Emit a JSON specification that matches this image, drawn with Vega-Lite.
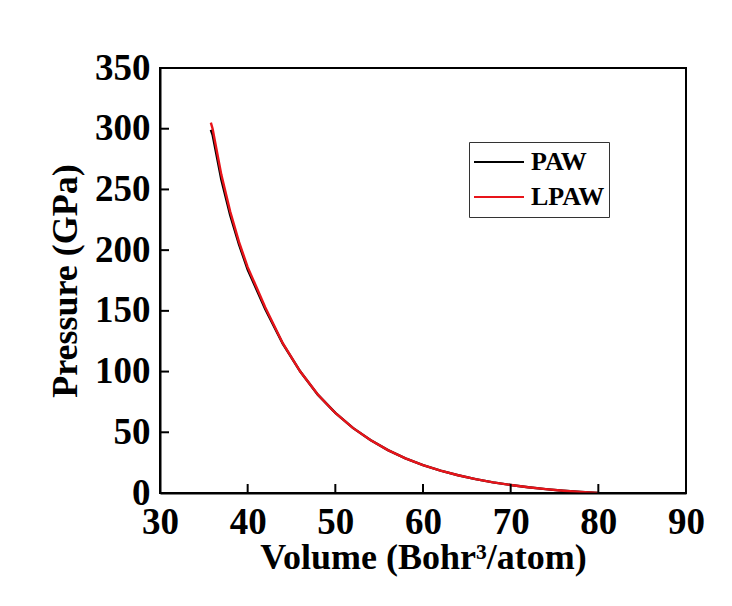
{
  "$schema": "https://vega.github.io/schema/vega-lite/v6.json",
  "width": 526,
  "height": 425,
  "autosize": "none",
  "padding": {"left": 160, "top": 68, "right": 46, "bottom": 113},
  "background": "#ffffff",
  "config": {
    "view": {"stroke": "#000000", "strokeWidth": 2},
    "font": "Liberation Serif"
  },
  "layer": [
    {
      "data": {
        "values": [
          {"v": 35.8, "p": 299, "s": "PAW"},
          {"v": 36, "p": 295, "s": "PAW"},
          {"v": 37, "p": 258, "s": "PAW"},
          {"v": 38, "p": 229, "s": "PAW"},
          {"v": 39, "p": 205, "s": "PAW"},
          {"v": 40, "p": 184, "s": "PAW"},
          {"v": 42, "p": 151.5, "s": "PAW"},
          {"v": 44, "p": 123, "s": "PAW"},
          {"v": 46, "p": 100, "s": "PAW"},
          {"v": 48, "p": 81, "s": "PAW"},
          {"v": 50, "p": 66, "s": "PAW"},
          {"v": 52, "p": 53.6, "s": "PAW"},
          {"v": 54, "p": 43.6, "s": "PAW"},
          {"v": 56, "p": 35.3, "s": "PAW"},
          {"v": 58, "p": 28.6, "s": "PAW"},
          {"v": 60, "p": 23.0, "s": "PAW"},
          {"v": 62, "p": 18.4, "s": "PAW"},
          {"v": 64, "p": 14.6, "s": "PAW"},
          {"v": 66, "p": 11.4, "s": "PAW"},
          {"v": 68, "p": 8.8, "s": "PAW"},
          {"v": 70, "p": 6.6, "s": "PAW"},
          {"v": 72, "p": 4.7, "s": "PAW"},
          {"v": 74, "p": 3.2, "s": "PAW"},
          {"v": 76, "p": 1.9, "s": "PAW"},
          {"v": 78, "p": 0.9, "s": "PAW"},
          {"v": 80, "p": 0, "s": "PAW"},
          {"v": 35.8, "p": 305, "s": "LPAW"},
          {"v": 36, "p": 300, "s": "LPAW"},
          {"v": 37, "p": 262, "s": "LPAW"},
          {"v": 38, "p": 232, "s": "LPAW"},
          {"v": 39, "p": 207, "s": "LPAW"},
          {"v": 40, "p": 186, "s": "LPAW"},
          {"v": 42, "p": 153, "s": "LPAW"},
          {"v": 44, "p": 123.4, "s": "LPAW"},
          {"v": 46, "p": 100, "s": "LPAW"},
          {"v": 48, "p": 81.1, "s": "LPAW"},
          {"v": 50, "p": 65.9, "s": "LPAW"},
          {"v": 52, "p": 53.6, "s": "LPAW"},
          {"v": 54, "p": 43.6, "s": "LPAW"},
          {"v": 56, "p": 35.3, "s": "LPAW"},
          {"v": 58, "p": 28.6, "s": "LPAW"},
          {"v": 60, "p": 23.0, "s": "LPAW"},
          {"v": 62, "p": 18.4, "s": "LPAW"},
          {"v": 64, "p": 14.6, "s": "LPAW"},
          {"v": 66, "p": 11.4, "s": "LPAW"},
          {"v": 68, "p": 8.8, "s": "LPAW"},
          {"v": 70, "p": 6.6, "s": "LPAW"},
          {"v": 72, "p": 4.7, "s": "LPAW"},
          {"v": 74, "p": 3.2, "s": "LPAW"},
          {"v": 76, "p": 1.9, "s": "LPAW"},
          {"v": 78, "p": 0.9, "s": "LPAW"},
          {"v": 80, "p": 0, "s": "LPAW"}
        ]
      },
      "mark": {"type": "line", "strokeWidth": 2.4, "clip": true},
      "encoding": {
        "x": {
          "field": "v", "type": "quantitative",
          "title": "Volume (Bohr³/atom)",
          "scale": {"domain": [30, 90], "nice": false, "zero": false},
          "axis": {
            "orient": "bottom",
            "title": "Volume (Bohr³/atom)",
            "values": [30, 40, 50, 60, 70, 80, 90],
            "grid": false,
            "ticks": false,
            "zindex": 1,
            "domainColor": "#000000", "domainWidth": 2,
            "labelFont": "Liberation Serif", "labelFontWeight": "bold", "labelFontSize": 37, "labelColor": "#000000",
            "labelPadding": 11, "labelFlush": false,
            "titleFont": "Liberation Serif", "titleFontWeight": "bold", "titleFontSize": 36, "titleColor": "#000000",
            "titlePadding": 0
          }
        },
        "y": {
          "field": "p", "type": "quantitative",
          "title": "Pressure (GPa)",
          "scale": {"domain": [0, 350], "nice": false},
          "axis": {
            "orient": "left",
            "title": "Pressure (GPa)",
            "values": [0, 50, 100, 150, 200, 250, 300, 350],
            "grid": false,
            "ticks": false,
            "zindex": 1,
            "domainColor": "#000000", "domainWidth": 2,
            "labelFont": "Liberation Serif", "labelFontWeight": "bold", "labelFontSize": 37, "labelColor": "#000000",
            "labelPadding": 10, "labelFlush": false,
            "titleFont": "Liberation Serif", "titleFontWeight": "bold", "titleFontSize": 36, "titleColor": "#000000",
            "titlePadding": 10
          }
        },
        "color": {
          "field": "s", "type": "nominal",
          "scale": {"domain": ["PAW", "LPAW"], "range": ["#000000", "#e8141a"]},
          "legend": {
            "title": null,
            "orient": "none",
            "legendX": 309,
            "legendY": 74,
            "strokeColor": "#333333",
            "padding": 4,
            "symbolType": "M-1,0L1,0",
            "symbolSize": 2500,
            "symbolStrokeWidth": 2,
            "clipHeight": 32,
            "rowPadding": 3,
            "labelFont": "Liberation Serif", "labelFontWeight": "bold", "labelFontSize": 26, "labelColor": "#000000",
            "labelOffset": 6
          }
        },
        "order": {"field": "v", "type": "quantitative"}
      }
    },
    {
      "data": {"values": [{"t": 40}, {"t": 50}, {"t": 60}, {"t": 70}, {"t": 80}]},
      "mark": {"type": "rule", "color": "#000000", "strokeWidth": 2},
      "encoding": {
        "x": {"field": "t", "type": "quantitative", "title": "Volume (Bohr³/atom)"},
        "y": {"datum": 0, "type": "quantitative", "title": "Pressure (GPa)"},
        "y2": {"datum": 7.4}
      }
    },
    {
      "data": {"values": [{"t": 50}, {"t": 100}, {"t": 150}, {"t": 200}, {"t": 250}, {"t": 300}]},
      "mark": {"type": "rule", "color": "#000000", "strokeWidth": 2},
      "encoding": {
        "y": {"field": "t", "type": "quantitative", "title": "Pressure (GPa)"},
        "x": {"datum": 30, "type": "quantitative", "title": "Volume (Bohr³/atom)"},
        "x2": {"datum": 31.03}
      }
    }
  ]
}
